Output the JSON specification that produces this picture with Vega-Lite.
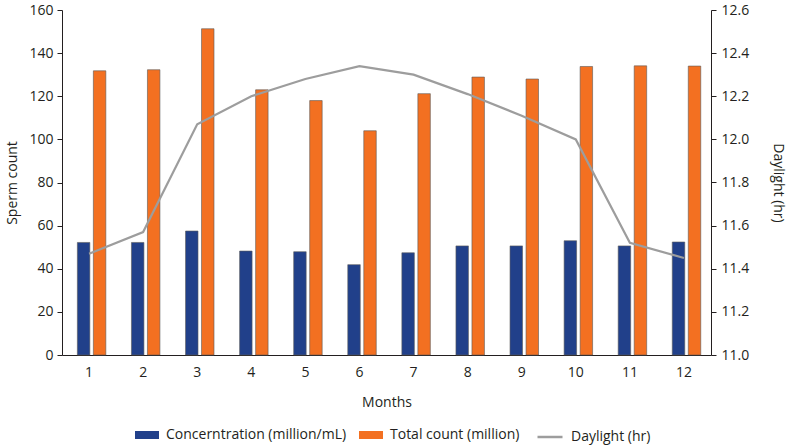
{
  "$schema": "https://vega.github.io/schema/vega-lite/v6.json",
  "width": 649,
  "height": 345,
  "autosize": {"type": "none"},
  "padding": {"left": 62, "top": 10, "right": 79, "bottom": 92},
  "background": "white",
  "config": {
    "view": {"stroke": null},
    "font": "Open Sans",
    "axis": {"labelFont": "Open Sans", "titleFont": "Open Sans", "labelFontSize": 14, "titleFontSize": 14, "titleFontWeight": "normal", "labelColor": "#231f20", "titleColor": "#231f20", "domainColor": "#231f20", "tickColor": "#231f20", "grid": false},
    "legend": {"labelFont": "Open Sans", "labelFontSize": 14, "labelColor": "#231f20", "labelLimit": 400}
  },
  "datasets": {
    "bars": [
      {"month": 1, "series": "Concerntration (million/mL)", "value": 52.2},
      {"month": 1, "series": "Total count (million)", "value": 131.8},
      {"month": 2, "series": "Concerntration (million/mL)", "value": 52.2},
      {"month": 2, "series": "Total count (million)", "value": 132.3},
      {"month": 3, "series": "Concerntration (million/mL)", "value": 57.5},
      {"month": 3, "series": "Total count (million)", "value": 151.3},
      {"month": 4, "series": "Concerntration (million/mL)", "value": 48.2},
      {"month": 4, "series": "Total count (million)", "value": 123.0},
      {"month": 5, "series": "Concerntration (million/mL)", "value": 47.9},
      {"month": 5, "series": "Total count (million)", "value": 118.0},
      {"month": 6, "series": "Concerntration (million/mL)", "value": 41.9},
      {"month": 6, "series": "Total count (million)", "value": 104.0},
      {"month": 7, "series": "Concerntration (million/mL)", "value": 47.4},
      {"month": 7, "series": "Total count (million)", "value": 121.2},
      {"month": 8, "series": "Concerntration (million/mL)", "value": 50.6},
      {"month": 8, "series": "Total count (million)", "value": 128.9},
      {"month": 9, "series": "Concerntration (million/mL)", "value": 50.6},
      {"month": 9, "series": "Total count (million)", "value": 128.0},
      {"month": 10, "series": "Concerntration (million/mL)", "value": 53.0},
      {"month": 10, "series": "Total count (million)", "value": 133.8},
      {"month": 11, "series": "Concerntration (million/mL)", "value": 50.6},
      {"month": 11, "series": "Total count (million)", "value": 134.1},
      {"month": 12, "series": "Concerntration (million/mL)", "value": 52.4},
      {"month": 12, "series": "Total count (million)", "value": 134.0}
    ],
    "daylight": [
      {"month": 1, "series": "Daylight (hr)", "hours": 11.47},
      {"month": 2, "series": "Daylight (hr)", "hours": 11.57},
      {"month": 3, "series": "Daylight (hr)", "hours": 12.07},
      {"month": 4, "series": "Daylight (hr)", "hours": 12.2},
      {"month": 5, "series": "Daylight (hr)", "hours": 12.28},
      {"month": 6, "series": "Daylight (hr)", "hours": 12.34},
      {"month": 7, "series": "Daylight (hr)", "hours": 12.3},
      {"month": 8, "series": "Daylight (hr)", "hours": 12.21},
      {"month": 9, "series": "Daylight (hr)", "hours": 12.11},
      {"month": 10, "series": "Daylight (hr)", "hours": 12.0},
      {"month": 11, "series": "Daylight (hr)", "hours": 11.52},
      {"month": 12, "series": "Daylight (hr)", "hours": 11.45}
    ]
  },
  "encoding": {
    "x": {
      "field": "month",
      "type": "ordinal",
      "scale": {"paddingInner": 0, "paddingOuter": 0},
      "axis": {"title": "Months", "labelAngle": 0, "ticks": false, "labelPadding": 10, "titlePadding": 16}
    }
  },
  "layer": [
    {
      "data": {"name": "bars"},
      "mark": {"type": "bar", "stroke": "#5a5a5a", "strokeWidth": 0.6},
      "encoding": {
        "xOffset": {"field": "series", "type": "nominal", "scale": {"paddingInner": 0.22, "paddingOuter": 0.8, "align": 0.6}},
        "y": {
          "field": "value",
          "type": "quantitative",
          "scale": {"domain": [0, 160], "nice": false},
          "axis": {"title": "Sperm count", "values": [0, 20, 40, 60, 80, 100, 120, 140, 160], "tickSize": 5, "labelPadding": 4, "titlePadding": 9}
        },
        "color": {
          "field": "series",
          "type": "nominal",
          "scale": {"domain": ["Concerntration (million/mL)", "Total count (million)"], "range": ["#21408a", "#f37021"]},
          "legend": {"title": null, "orient": "none", "direction": "horizontal", "legendX": 73, "legendY": 413, "symbolType": "M-1,-0.333H1V0.333H-1Z", "symbolSize": 576, "symbolStrokeWidth": 0, "columnPadding": 12, "labelOffset": 7}
        }
      }
    },
    {
      "data": {"name": "daylight"},
      "mark": {"type": "line", "strokeWidth": 2.2},
      "encoding": {
        "y": {
          "field": "hours",
          "type": "quantitative",
          "scale": {"domain": [11, 12.6], "nice": false, "zero": false},
          "axis": {"title": "Daylight (hr)", "orient": "right", "values": [11, 11.2, 11.4, 11.6, 11.8, 12, 12.2, 12.4, 12.6], "format": ".1f", "tickSize": 5, "labelPadding": 5, "titlePadding": 22}
        },
        "stroke": {
          "field": "series",
          "type": "nominal",
          "scale": {"domain": ["Daylight (hr)"], "range": ["#9d9d9d"]},
          "legend": {"title": null, "orient": "none", "legendX": 474, "legendY": 413, "symbolType": "stroke", "symbolSize": 625, "symbolStrokeWidth": 2.5, "labelOffset": 7}
        }
      }
    }
  ],
  "resolve": {"scale": {"y": "independent"}}
}
